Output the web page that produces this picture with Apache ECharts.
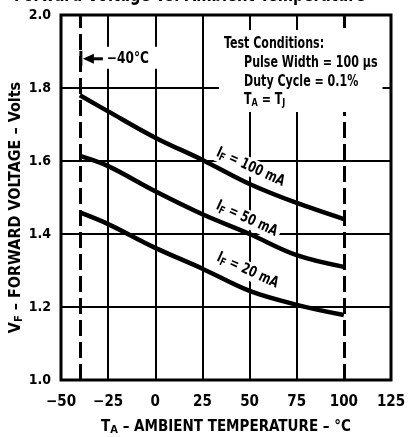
<!DOCTYPE html>
<html><head><meta charset="utf-8">
<script src="https://cdn.jsdelivr.net/npm/echarts@6/dist/echarts.min.js"></script>
<style>html,body{margin:0;padding:0;background:#fff}#c{width:411px;height:437px}</style>
</head><body><div id="c"></div>
<script>
// ---- data ----
const temps = [-40, -25, 0, 25, 50, 75, 100];
const vf100 = [1.780, 1.736, 1.664, 1.603, 1.537, 1.485, 1.441];
const vf50  = [1.614, 1.586, 1.517, 1.454, 1.400, 1.342, 1.310];
const vf20  = [1.459, 1.427, 1.362, 1.305, 1.244, 1.206, 1.178];
const seriesNames = ['100 mA', '50 mA', '20 mA'];
const xTicks = [-50, -25, 0, 25, 50, 75, 100, 125];
const yTicks = [1.0, 1.2, 1.4, 1.6, 1.8, 2.0];
const xGrid = [-25, 0, 25, 50, 75];
const yGrid = [1.2, 1.4, 1.6, 1.8];
const limitTemps = [-40, 100];
const titleText = 'Forward Voltage vs. Ambient Temperature';
const testLines = ['Test Conditions:', 'Pulse Width = 100 \u03bcs', 'Duty Cycle = 0.1%'];

const F = "'Liberation Sans Narrow','DejaVu Sans Condensed','Arial Narrow',sans-serif";
const rich = {
  n: {fontSize: 15, fontWeight: 'bold', fontFamily: F, color: '#000'},
  s: {fontSize: 11, fontWeight: 'bold', fontFamily: F, color: '#000', padding: [7, 0, 0, 0]}
};
const richY = {
  n: {fontSize: 16, fontWeight: 'bold', fontFamily: F, color: '#000'},
  s: {fontSize: 11, fontWeight: 'bold', fontFamily: F, color: '#000', padding: [7, 0, 0, 0]}
};
const SX = 0.82;

const chart = echarts.init(document.getElementById('c'), null, {renderer: 'canvas'});
const mk = v => String(v).replace('-', '\u2212');
const curve = (name, arr) => ({
  name, type: 'line', smooth: 0.35, symbol: 'none', z: 60,
  data: temps.map((t, i) => [t, arr[i]]),
  lineStyle: {color: '#000', width: 4.5}
});

chart.setOption({
  animation: false,
  backgroundColor: '#fff',
  grid: {left: 61, top: 15, width: 330, height: 365, show: true, borderColor: '#000', borderWidth: 3, z: 70,
         containLabel: false, outerBoundsMode: 'none'},
  xAxis: {
    type: 'value', min: xTicks[0], max: xTicks[xTicks.length - 1], interval: 25,
    axisLine: {show: false}, axisTick: {show: false}, splitLine: {show: false},
    axisLabel: {margin: 15, color: '#000', fontWeight: 'bold', fontSize: 15, fontFamily: F, formatter: v => mk(v)},
    name: '{n|T}{s|A}{n| \u2013 AMBIENT TEMPERATURE \u2013 \u00b0C}', nameLocation: 'middle', nameGap: 38,
    nameMoveOverlap: false,
    nameTextStyle: {rich}
  },
  yAxis: {
    type: 'value', min: yTicks[0], max: yTicks[yTicks.length - 1], interval: 0.2,
    axisLine: {show: false}, axisTick: {show: false}, splitLine: {show: false},
    axisLabel: {margin: 10, color: '#000', fontWeight: 'bold', fontSize: 14, fontFamily: F, formatter: v => v.toFixed(1)},
    name: '{n|V}{s|F}{n| \u2013 FORWARD VOLTAGE \u2013 Volts}', nameLocation: 'middle', nameGap: 36, nameRotate: 90,
    nameMoveOverlap: false,
    nameTextStyle: {rich: richY, padding: [0, 20, 0, 0]}
  },
  series: [
    {
      type: 'line', data: [], z: 1, silent: true,
      markLine: {
        silent: true, symbol: 'none', label: {show: false}, animation: false, z: 1,
        lineStyle: {color: '#000', width: 2, type: 'solid'},
        data: xGrid.map(v => ({xAxis: v})).concat(yGrid.map(v => ({yAxis: v})))
          .concat(limitTemps.map(v => ({xAxis: v, lineStyle: {type: [16, 6], width: 3}})))
      }
    },
    curve(seriesNames[0], vf100),
    curve(seriesNames[1], vf50),
    curve(seriesNames[2], vf20)
  ]
});

const P = (x, y) => chart.convertToPixel({gridIndex: 0}, [x, y]);
const g = [];
// title (cut off at top in reference)
g.push({type: 'text', x: 14, y: 6, scaleX: 0.78, z: 50, style: {text: titleText, font: "bold 21px " + F, fill: '#000', align: 'left', verticalAlign: 'bottom'}});

// curve labels
const lblPos = [[50.5, 1.583], [48.5, 1.442], [49, 1.300]];
lblPos.forEach((p, i) => {
  const q = P(p[0], p[1]);
  g.push({type: 'text', x: q[0], y: q[1], rotation: -0.43, scaleX: SX, z: 50,
    style: {text: '{n|I}{s|F}{n| = ' + seriesNames[i] + '}', rich, align: 'center', verticalAlign: 'middle',
      backgroundColor: '#fff', padding: [0, 4, 0, 4]}});
});

// test conditions box
const b0 = P(33.8, 1.959), b1 = P(120.5, 1.734);
g.push({type: 'rect', z: 40, shape: {x: b0[0], y: b0[1], width: b1[0] - b0[0], height: b1[1] - b0[1]}, style: {fill: '#fff'}});
g.push({type: 'text', z: 50, scaleX: SX, x: b0[0] + 5, y: b0[1] + 14, style: {text: '{n|' + testLines[0] + '}', rich, align: 'left', verticalAlign: 'middle'}});
g.push({type: 'text', z: 50, scaleX: SX, x: b0[0] + 25, y: b0[1] + 33, style: {text: '{n|' + testLines[1] + '}', rich, align: 'left', verticalAlign: 'middle'}});
g.push({type: 'text', z: 50, scaleX: SX, x: b0[0] + 25, y: b0[1] + 52, style: {text: '{n|' + testLines[2] + '}', rich, align: 'left', verticalAlign: 'middle'}});
g.push({type: 'text', z: 50, scaleX: SX, x: b0[0] + 25, y: b0[1] + 70, style: {text: '{n|T}{s|A}{n| = T}{s|J}', rich, align: 'left', verticalAlign: 'middle'}});

// -40 C annotation
const a = P(limitTemps[0], 1.88);
const x0 = a[0] + 1, y0 = a[1];
g.push({type: 'rect', z: 40, shape: {x: x0 + 3, y: y0 - 12, width: 74, height: 22}, style: {fill: '#fff'}});
g.push({type: 'line', z: 50, shape: {x1: x0, y1: y0 - 8, x2: x0, y2: y0 + 7}, style: {stroke: '#000', lineWidth: 3}});
g.push({type: 'line', z: 50, shape: {x1: x0 + 8, y1: y0, x2: x0 + 22, y2: y0}, style: {stroke: '#000', lineWidth: 3}});
g.push({type: 'polygon', z: 50, shape: {points: [[x0 + 2, y0], [x0 + 13, y0 - 5], [x0 + 13, y0 + 5]]}, style: {fill: '#000'}});
g.push({type: 'text', z: 50, scaleX: 0.9, x: x0 + 26, y: y0, style: {text: '{n|\u221240\u00b0C}', rich, align: 'left', verticalAlign: 'middle'}});

chart.setOption({graphic: g});
</script></body></html>
